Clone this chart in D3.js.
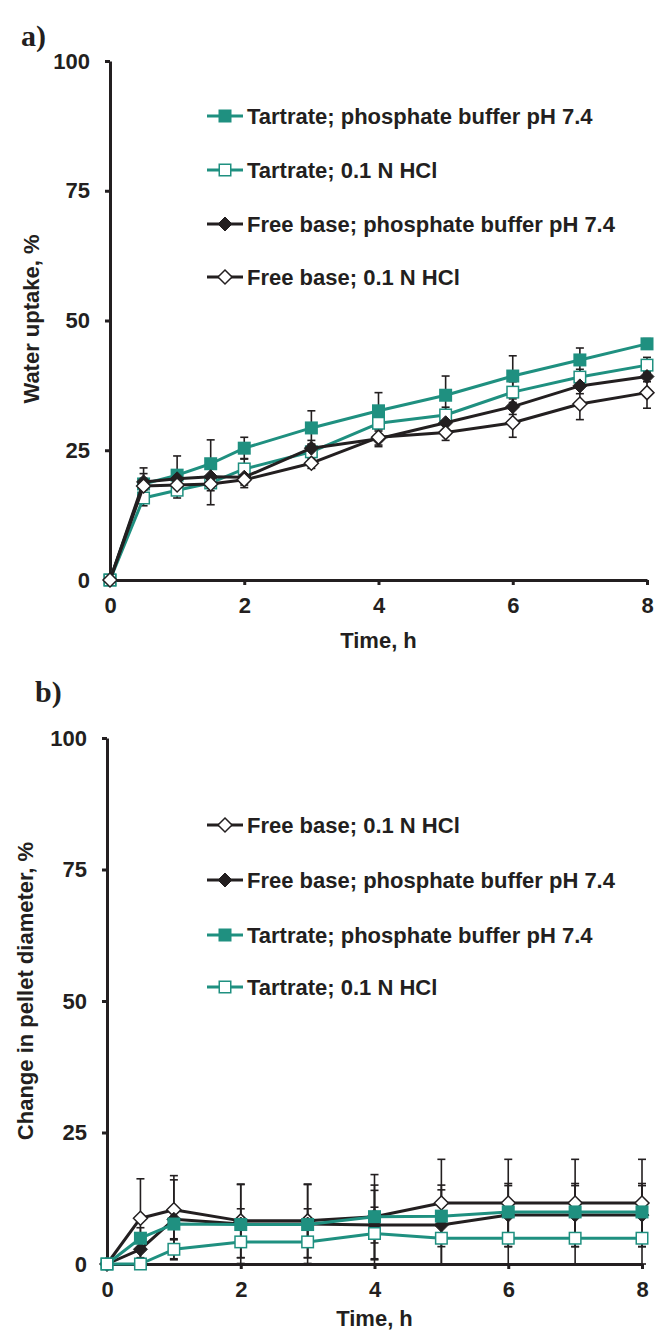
<!DOCTYPE html>
<html>
<head>
<meta charset="utf-8">
<script src="https://cdn.jsdelivr.net/npm/d3@7"></script>
<style>
  body { margin: 0; background: #fff; }
  text { font-family: Arial, "Liberation Sans", sans-serif; font-weight: bold; fill: #231f20; }
</style>
</head>
<body>
<div id="chart"></div>
<script>
// ---- data ----
const timeA = [0, 0.5, 1, 1.5, 2, 3, 4, 5, 6, 7, 8]
const tartPhA     = [0, 18.5, 20.2, 22.4, 25.4, 29.3, 32.6, 35.6, 39.3, 42.4, 45.5]
const tartPhErrA  = [0, 2, 3.7, 4.6, 2.1, 3.3, 3.5, 3.7, 3.9, 2.3, 1]
const tartHclA    = [0, 15.8, 17.3, 18.7, 21.4, 24.7, 30.2, 31.8, 36.2, 39.1, 41.4]
const tartHclErrA = [0, 1.5, 1.5, 1.5, 2, 1.5, 2.5, 1.5, 2, 1.5, 1.5]
const fbPhA       = [0, 18.9, 19.5, 19.9, 19.8, 25.4, 27.2, 30.3, 33.4, 37.4, 39.2]
const fbPhErrA    = [0, 2.7, 1, 1.5, 1.5, 1.5, 1.5, 1.5, 1.5, 1.5, 1]
const fbHclA      = [0, 18.1, 18.3, 18.5, 19.3, 22.5, 27.5, 28.4, 30.3, 33.9, 36.1]
const fbHclErrA   = [0, 1.5, 1.5, 4, 1.5, 1, 1.5, 1.5, 2.8, 3, 3]

const timeB = [0, 0.5, 1, 2, 3, 4, 5, 6, 7, 8]
const fbHclB      = [0, 8.7, 10.3, 8.2, 8.2, 9, 11.6, 11.6, 11.6, 11.6]
const fbHclErrB   = [0, 7.5, 6.5, 7, 7, 8, 8.3, 8.3, 8.3, 8.3]
const fbPhB       = [0, 2.8, 8.5, 7.6, 7.6, 7.4, 7.4, 9.3, 9.3, 9.3]
const fbPhErrB    = [0, 3, 7.5, 7.5, 7.5, 7.6, 7.6, 6, 6, 6]
const tartPhB     = [0, 4.9, 7.6, 7.5, 7.5, 9, 9.1, 9.9, 9.9, 9.9]
const tartPhErrB  = [0, 2, 3, 3, 3, 5, 5, 5, 5, 5]
const tartHclB    = [0, 0, 2.8, 4.2, 4.2, 5.8, 4.9, 4.9, 4.9, 4.9]
const tartHclErrB = [0, 0.5, 2, 3, 3, 5, 5, 5, 5, 5]

const yTicks = [0, 25, 50, 75, 100]
const xTicks = [0, 2, 4, 6, 8]

const teal = "#1f9080"
const black = "#231f20"

const labelTartPh = "Tartrate; phosphate buffer pH 7.4"
const labelTartHcl = "Tartrate; 0.1 N HCl"
const labelFbPh = "Free base; phosphate buffer pH 7.4"
const labelFbHcl = "Free base; 0.1 N HCl"

const makeSeries = (time, vals, errs, name, color, shape, filled) =>
  ({ name, color, shape, filled, points: time.map((t, i) => ({ t, v: vals[i], e: errs[i] })) })

const panels = [
  {
    tag: "a)", tagX: 21, tagY: 46,
    x0: 110, x1: 647, y0: 580, y1: 61,
    yTitle: "Water uptake, %", yTitleX: 31, yTitleY: 319, xTitleY: 640,
    legendX: 207, legendY: [116, 170, 224, 277],
    series: [
      makeSeries(timeA, tartPhA, tartPhErrA, labelTartPh, teal, "square", true),
      makeSeries(timeA, tartHclA, tartHclErrA, labelTartHcl, teal, "square", false),
      makeSeries(timeA, fbPhA, fbPhErrA, labelFbPh, black, "diamond", true),
      makeSeries(timeA, fbHclA, fbHclErrA, labelFbHcl, black, "diamond", false),
    ],
  },
  {
    tag: "b)", tagX: 35, tagY: 702,
    x0: 107, x1: 642, y0: 1264, y1: 738,
    yTitle: "Change in pellet diameter, %", yTitleX: 25, yTitleY: 991, xTitleY: 1318,
    legendX: 207, legendY: [825, 880, 935, 987],
    series: [
      makeSeries(timeB, fbHclB, fbHclErrB, labelFbHcl, black, "diamond", false),
      makeSeries(timeB, fbPhB, fbPhErrB, labelFbPh, black, "diamond", true),
      makeSeries(timeB, tartPhB, tartPhErrB, labelTartPh, teal, "square", true),
      makeSeries(timeB, tartHclB, tartHclErrB, labelTartHcl, teal, "square", false),
    ],
  },
]

const svg = d3.select("#chart").append("svg")
  .attr("width", 656)
  .attr("height", 1333)

function drawMarker(g, shape, filled, color, cx, cy) {
  const s = 6.5
  if (shape === "square") {
    g.append("rect")
      .attr("x", cx - s + (filled ? 0 : 0.75))
      .attr("y", cy - s + (filled ? 0 : 0.75))
      .attr("width", 2 * s - (filled ? 0 : 1.5))
      .attr("height", 2 * s - (filled ? 0 : 1.5))
      .attr("fill", filled ? color : "#fff")
      .attr("stroke", filled ? "none" : color)
      .attr("stroke-width", 1.5)
  } else {
    const d = s + 0.5
    g.append("path")
      .attr("d", `M${cx},${cy - d}L${cx + d},${cy}L${cx},${cy + d}L${cx - d},${cy}Z`)
      .attr("fill", filled ? color : "#fff")
      .attr("stroke", color)
      .attr("stroke-width", filled ? 1 : 1.5)
  }
}

panels.forEach(p => {
  const xScale = d3.scaleLinear().domain([0, 8]).range([p.x0, p.x1])
  const yScale = d3.scaleLinear().domain([0, 100]).range([p.y0, p.y1])

  // panel tag
  svg.append("text")
    .attr("x", p.tagX)
    .attr("y", p.tagY)
    .style("font-family", "'Liberation Serif', 'Times New Roman', serif")
    .style("font-size", "30px")
    .text(p.tag)

  // error bars
  const errG = svg.append("g")
  p.series.forEach(s => {
    s.points.filter(d => d.e > 0).forEach(d => {
      const x = xScale(d.t)
      const yTop = yScale(d.v + d.e)
      const yBot = yScale(Math.max(0, d.v - d.e))
      errG.append("line")
        .attr("x1", x).attr("x2", x)
        .attr("y1", yTop).attr("y2", yBot)
        .attr("stroke", black).attr("stroke-width", 1.6)
      ;[yTop, yBot].forEach(yy => errG.append("line")
        .attr("x1", x - 4).attr("x2", x + 4)
        .attr("y1", yy).attr("y2", yy)
        .attr("stroke", black).attr("stroke-width", 1.6))
    })
  })

  // axes
  const yAxis = svg.append("g")
    .attr("transform", `translate(${p.x0},0)`)
    .call(d3.axisLeft(yScale).tickValues(yTicks).tickSize(5).tickSizeOuter(0).tickPadding(15))
  const xAxis = svg.append("g")
    .attr("transform", `translate(0,${p.y0})`)
    .call(d3.axisBottom(xScale).tickValues(xTicks).tickSize(5).tickSizeOuter(0).tickPadding(12))
  ;[yAxis, xAxis].forEach(ax => {
    ax.select(".domain").attr("stroke", black).attr("stroke-width", 3)
    ax.selectAll(".tick line").attr("stroke", black).attr("stroke-width", 3)
    ax.selectAll(".tick text")
      .style("font-family", "Arial, 'Liberation Sans', sans-serif")
      .style("font-weight", "bold")
      .style("font-size", "22px")
      .attr("fill", black)
  })

  // axis titles
  svg.append("text")
    .attr("x", (p.x0 + p.x1) / 2)
    .attr("y", p.xTitleY)
    .attr("dy", "0.35em")
    .attr("text-anchor", "middle")
    .style("font-size", "22px")
    .text("Time, h")

  svg.append("text")
    .attr("transform", `translate(${p.yTitleX},${p.yTitleY}) rotate(-90)`)
    .attr("dy", "0.35em")
    .attr("text-anchor", "middle")
    .style("font-size", "22px")
    .text(p.yTitle)

  // lines and markers
  const line = d3.line()
    .x(d => xScale(d.t))
    .y(d => yScale(d.v))
  p.series.forEach(s => {
    svg.append("path")
      .attr("d", line(s.points))
      .attr("fill", "none")
      .attr("stroke", s.color)
      .attr("stroke-width", 3)
      .attr("stroke-linejoin", "round")
    const mg = svg.append("g")
    s.points.forEach(d => drawMarker(mg, s.shape, s.filled, s.color, xScale(d.t), yScale(d.v)))
  })

  // legend
  p.series.forEach((s, i) => {
    const ly = p.legendY[i]
    const lg = svg.append("g")
    lg.append("line")
      .attr("x1", p.legendX).attr("x2", p.legendX + 36)
      .attr("y1", ly).attr("y2", ly)
      .attr("stroke", s.color).attr("stroke-width", 3)
    drawMarker(lg, s.shape, s.filled, s.color, p.legendX + 18, ly)
    lg.append("text")
      .attr("x", p.legendX + 40)
      .attr("y", ly)
      .attr("dy", "0.35em")
      .style("font-size", "22px")
      .text(s.name)
  })
})
</script>
</body>
</html>
